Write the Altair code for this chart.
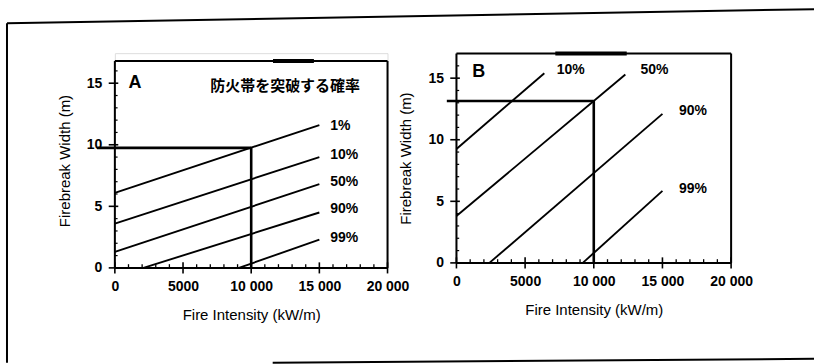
import altair as alt
import pandas as pd

FONT = "Liberation Sans"
JP_FONT = "Noto Sans CJK JP"
X_DOMAIN = [0, 20000]

# Panel A: firebreak width vs fire intensity, one line per breach probability
a_labels = ["1%", "10%", "50%", "90%", "99%"]
a_x0 = [0, 0, 0, 2100, 9100]
a_y0 = [6.1, 3.6, 1.3, 0.0, 0.0]
a_x1 = [15000, 15000, 15000, 15000, 15000]
a_y1 = [11.6, 9.0, 6.8, 4.5, 2.3]
a_label_x = [15800, 15800, 15800, 15800, 15800]
a_label_y = [11.5, 9.2, 7.0, 4.8, 2.4]
a_read = {"x": 10000, "y": 9.75, "start": -1300}
a_box_top = 16.8
a_view_top = 17.44
a_top_bar = [11600, 14600]

# Panel B
b_labels = ["10%", "50%", "90%", "99%"]
b_x0 = [0, 0, 2400, 9200]
b_y0 = [9.25, 3.8, 0.0, 0.0]
b_x1 = [6400, 12300, 15000, 15000]
b_y1 = [15.4, 15.3, 12.1, 5.85]
b_label_x = [7300, 13400, 16200, 16200]
b_label_y = [15.7, 15.7, 12.3, 6.0]
b_read = {"x": 10000, "y": 13.15, "start": -700}
b_box_top = 17.0
b_view_top = 17.03
b_top_bar = [7200, 12400]

x_ticks = [0, 5000, 10000, 15000, 20000]
x_minor = [1000, 2000, 3000, 4000, 6000, 7000, 8000, 9000,
           11000, 12000, 13000, 14000, 16000, 17000, 18000, 19000]
y_ticks = [0, 5, 10, 15]
y_minor = [1, 2, 3, 4, 6, 7, 8, 9, 11, 12, 13, 14, 16]

X_LABELS = ("datum.value >= 10000 ? replace(format(datum.value, ','), ',', ' ')"
            " : format(datum.value, 'd')")

AXIS_STYLE = dict(domain=False, ticks=False, grid=False,
                  labelFlush=False, labelOverlap=False, labelBound=False,
                  labelFont=FONT, labelFontSize=14, labelFontWeight="bold",
                  labelColor="black", titleFont=FONT, titleFontSize=15,
                  titleFontWeight="normal", titleColor="black")
X_AXIS = alt.Axis(values=x_ticks, title="Fire Intensity (kW/m)",
                  labelExpr=X_LABELS, labelPadding=12, titlePadding=14,
                  **AXIS_STYLE)
Y_AXIS = alt.Axis(values=y_ticks, title="Firebreak Width (m)",
                  labelPadding=13, titlePadding=14, **AXIS_STYLE)


def panel(labels, x0, y0, x1, y1, lx, ly, read, box_top, view_top, top_bar,
          width, height, letter, letter_x, letter_y, extra_layers=()):
    xs = alt.Scale(domain=X_DOMAIN, nice=False, zero=False)
    ys = alt.Scale(domain=[0, view_top], nice=False, zero=False)

    def X(f):
        return alt.X(f, type="quantitative", scale=xs, axis=X_AXIS)

    def Y(f):
        return alt.Y(f, type="quantitative", scale=ys, axis=Y_AXIS)

    curves = pd.DataFrame({"p": labels, "x0": x0, "y0": y0, "x1": x1, "y1": y1})
    lines = alt.Chart(curves).mark_rule(color="black", strokeWidth=1.9).encode(
        x=X("x0"), x2="x1:Q", y=Y("y0"), y2="y1:Q")

    lab = pd.DataFrame({"p": labels, "x": lx, "y": ly})
    texts = alt.Chart(lab).mark_text(
        align="left", baseline="middle", fontSize=14, fontWeight="bold",
        font=FONT, color="black").encode(x=X("x"), y=Y("y"), text="p:N")

    # reading guide: width needed at 10 000 kW/m
    guide = pd.DataFrame({
        "x": [read["start"], read["x"]], "x2": [read["x"], read["x"]],
        "y": [read["y"], 0], "y2": [read["y"], read["y"]]})
    guides = alt.Chart(guide).mark_rule(color="black", strokeWidth=2.6).encode(
        x=X("x"), x2="x2:Q", y=Y("y"), y2="y2:Q")

    # plot frame
    box = pd.DataFrame({
        "x": [X_DOMAIN[0], X_DOMAIN[0], X_DOMAIN[1], X_DOMAIN[0]],
        "x2": [X_DOMAIN[1], X_DOMAIN[0], X_DOMAIN[1], X_DOMAIN[1]],
        "y": [0, 0, 0, box_top], "y2": [0, box_top, box_top, box_top]})
    frame = alt.Chart(box).mark_rule(color="black", strokeWidth=2).encode(
        x=X("x"), x2="x2:Q", y=Y("y"), y2="y2:Q")
    bar = alt.Chart(pd.DataFrame({"x": [top_bar[0]], "x2": [top_bar[1]],
                                  "y": [box_top]})).mark_rule(
        color="black", strokeWidth=4).encode(x=X("x"), x2="x2:Q", y=Y("y"))

    # crossing major ticks and small minor ticks
    xmaj = alt.Chart(pd.DataFrame({"v": x_ticks})).mark_rule(
        color="black", strokeWidth=1.6).encode(
        x=X("v"), y=Y("lo"), y2="hi:Q"
    ).transform_calculate(lo="-0.45", hi="0.45")
    xmin = alt.Chart(pd.DataFrame({"v": x_minor})).mark_rule(
        color="black", strokeWidth=1.3).encode(
        x=X("v"), y=Y("lo"), y2="hi:Q"
    ).transform_calculate(lo="0", hi="0.3")
    ymaj = alt.Chart(pd.DataFrame({"v": y_ticks})).mark_rule(
        color="black", strokeWidth=1.6).encode(
        y=Y("v"), x=X("lo"), x2="hi:Q"
    ).transform_calculate(lo="-450", hi="250")
    ymin = alt.Chart(pd.DataFrame({"v": y_minor})).mark_rule(
        color="black", strokeWidth=1.2).encode(
        y=Y("v"), x=X("lo"), x2="hi:Q"
    ).transform_calculate(lo="0", hi="200")

    tag = alt.Chart(pd.DataFrame({"t": [letter], "x": [letter_x], "y": [letter_y]})
                    ).mark_text(align="left", baseline="middle", fontSize=18,
                                fontWeight="bold", font=FONT, color="black"
                                ).encode(x=X("x"), y=Y("y"), text="t:N")

    layers = [lines, frame, bar, xmaj, xmin, ymaj, ymin, guides, texts, tag]
    layers += [f(X, Y) for f in extra_layers]
    return alt.layer(*layers).properties(width=width, height=height)


def legend_title(X, Y):
    return alt.Chart(pd.DataFrame({"t": ["防火帯を突破する確率"], "x": [7000],
                                   "y": [14.8]})).mark_text(
        align="left", baseline="middle", fontSize=15, fontWeight="bold",
        font=JP_FONT, color="black").encode(x=X("x"), y=Y("y"), text="t:N")


def page_edge(x, x2, y, y2):
    def make(X, Y):
        return alt.Chart(alt.Data(values=[{}])).mark_rule(
            color="black", strokeWidth=2).encode(
            x=alt.value(x), x2=alt.value(x2), y=alt.value(y), y2=alt.value(y2))
    return make


chart_a = panel(a_labels, a_x0, a_y0, a_x1, a_y1, a_label_x, a_label_y, a_read,
                a_box_top, a_view_top, a_top_bar, 273, 215, "A", 1000, 15.0,
                extra_layers=[legend_title,
                              page_edge(-108, -108, -30, 310),
                              page_edge(-108, 700, -30, -44),
                              page_edge(158, 700, 310, 306)])
chart_b = panel(b_labels, b_x0, b_y0, b_x1, b_y1, b_label_x, b_label_y, b_read,
                b_box_top, b_view_top, b_top_bar, 275, 210, "B", 1150, 15.5)

chart = alt.hconcat(chart_a, chart_b, spacing=69, bounds="flush").properties(
    padding={"left": 5, "top": 7, "right": 0, "bottom": 0}
).configure_view(stroke=None).configure(background="white")

chart.save("out.html", embed_options={"renderer": "svg", "actions": False})
